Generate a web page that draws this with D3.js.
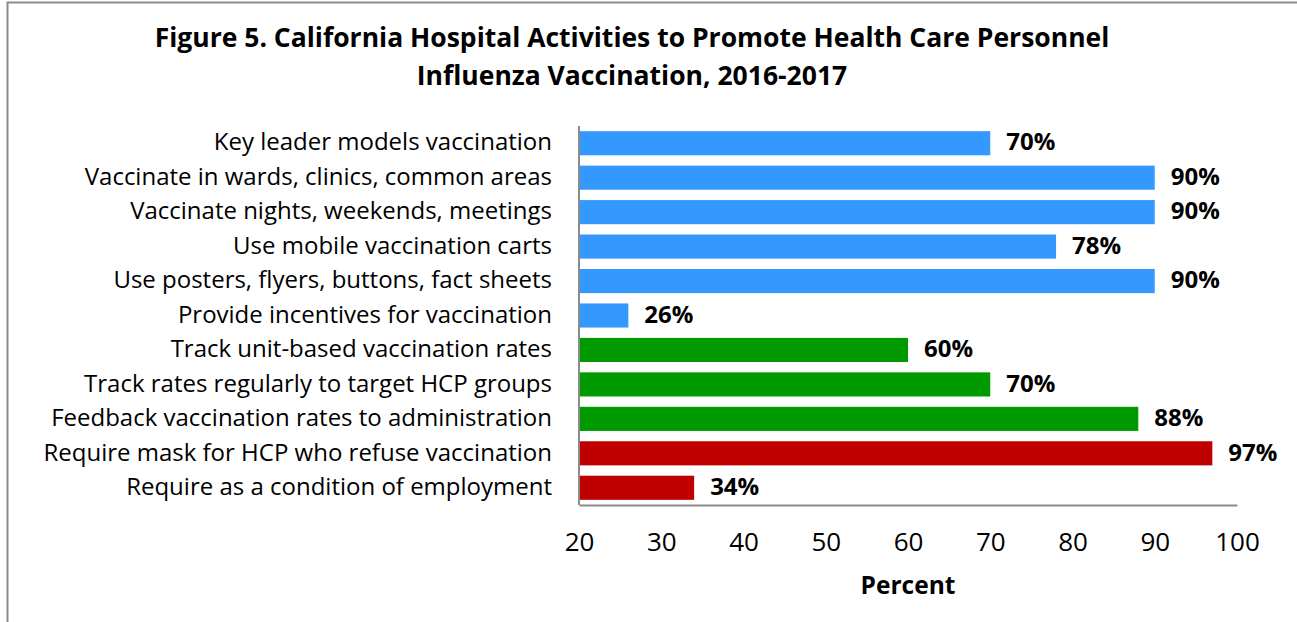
<!DOCTYPE html>
<html>
<head>
<script src="https://cdn.jsdelivr.net/npm/d3@7"></script>
<style>
  body { margin: 0; background: #fff; }
  text { font-family: "Open Sans", "Liberation Sans", sans-serif; fill: #000; }
</style>
</head>
<body>
<div id="chart"></div>
<script>
// data
var activities = [
  "Key leader models vaccination",
  "Vaccinate in wards, clinics, common areas",
  "Vaccinate nights, weekends, meetings",
  "Use mobile vaccination carts",
  "Use posters, flyers, buttons, fact sheets",
  "Provide incentives for vaccination",
  "Track unit-based vaccination rates",
  "Track rates regularly to target HCP groups ",
  "Feedback vaccination rates to administration",
  "Require mask for HCP who refuse vaccination",
  "Require as a condition of employment"
];
var percents = [70, 90, 90, 78, 90, 26, 60, 70, 88, 97, 34];
var groups = ["promote", "promote", "promote", "promote", "promote", "promote",
              "track", "track", "track", "require", "require"];
var groupColors = { promote: "#3399FF", track: "#009900", require: "#C00000" };
var xTicks = [20, 30, 40, 50, 60, 70, 80, 90, 100];

var W = 1297, H = 622;
var plotLeft = 579, plotRight = 1237, plotTop = 126, plotBottom = 505;

var svg = d3.select("#chart").append("svg")
  .attr("width", W)
  .attr("height", H);

// outer frame (right/bottom edges sit outside the picture)
svg.append("rect")
  .attr("x", 7.5).attr("y", 2.5)
  .attr("width", W + 10).attr("height", H + 10)
  .attr("fill", "none")
  .attr("stroke", "#8c8c8c")
  .attr("stroke-width", 2);

svg.append("text")
  .attr("x", 632).attr("y", 47)
  .attr("text-anchor", "middle")
  .attr("font-size", 26.5).attr("font-weight", "bold")
  .text("Figure 5. California Hospital Activities to Promote Health Care Personnel");
svg.append("text")
  .attr("x", 632).attr("y", 85)
  .attr("text-anchor", "middle")
  .attr("font-size", 26.5).attr("font-weight", "bold")
  .text("Influenza Vaccination, 2016-2017");

var x = d3.scaleLinear().domain([20, 100]).range([plotLeft, plotRight]);
var y = d3.scaleBand().domain(activities).range([plotTop, plotBottom]).paddingInner(0.3).paddingOuter(0.15);

var rows = activities.map(function(a, i) {
  return { name: a, value: percents[i], group: groups[i] };
});

svg.selectAll("rect.bar")
  .data(rows)
  .enter().append("rect")
  .attr("class", "bar")
  .attr("x", x(20))
  .attr("y", function(d) { return y(d.name); })
  .attr("width", function(d) { return x(d.value) - x(20); })
  .attr("height", y.bandwidth())
  .attr("fill", function(d) { return groupColors[d.group]; });

svg.selectAll("text.val")
  .data(rows)
  .enter().append("text")
  .attr("class", "val")
  .attr("x", function(d) { return x(d.value) + 16; })
  .attr("y", function(d) { return y(d.name) + y.bandwidth() / 2; })
  .attr("dy", ".3em")
  .attr("font-size", 24).attr("font-weight", "bold")
  .text(function(d) { return d.value + "%"; });

// y axis: category labels, no ticks
var yAxis = svg.append("g")
  .attr("transform", "translate(" + plotLeft + ",0)")
  .call(d3.axisLeft(y).tickSize(0).tickPadding(27));
yAxis.select(".domain").attr("stroke", "#8c8c8c").attr("stroke-width", 2)
  .attr("d", "M0," + plotTop + "V" + plotBottom);
yAxis.selectAll("text").attr("font-size", 24).attr("dy", ".3em").style("font-family", null);

var xAxis = svg.append("g")
  .attr("transform", "translate(0," + plotBottom + ")")
  .call(d3.axisBottom(x).tickValues(xTicks).tickSize(0).tickPadding(28));
xAxis.select(".domain").attr("stroke", "#8c8c8c").attr("stroke-width", 2);
xAxis.selectAll("text").attr("font-size", 26).style("font-family", null);

svg.append("text")
  .attr("x", (plotLeft + plotRight) / 2).attr("y", 594)
  .attr("text-anchor", "middle")
  .attr("font-size", 24.5).attr("font-weight", "bold")
  .text("Percent");
</script>
</body>
</html>
